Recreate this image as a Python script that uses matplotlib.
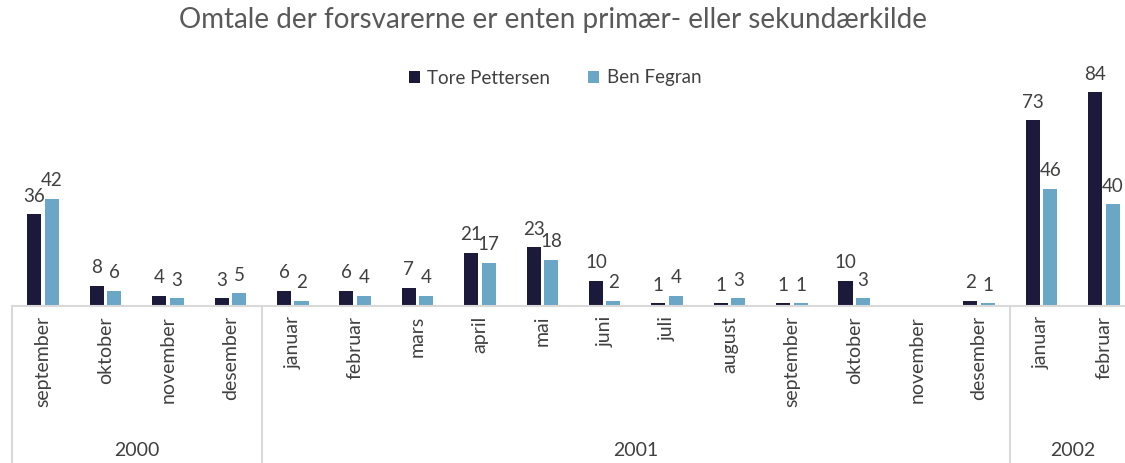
import numpy as np
import matplotlib.pyplot as plt
from matplotlib.lines import Line2D
import matplotlib.transforms as mtransforms

plt.rcParams['font.family'] = ['Lato', 'DejaVu Sans']

# Data
months = ['september', 'oktober', 'november', 'desember',
          'januar', 'februar', 'mars', 'april', 'mai', 'juni', 'juli',
          'august', 'september', 'oktober', 'november', 'desember',
          'januar', 'februar']
years = ['2000', '2001', '2002']
year_counts = [4, 12, 2]
tore = [36, 8, 4, 3, 6, 6, 7, 21, 23, 10, 1, 1, 1, 10, np.nan, 2, 73, 84]
ben = [42, 6, 3, 5, 2, 4, 4, 17, 18, 2, 4, 3, 1, 3, np.nan, 1, 46, 40]

c_tore = '#1b1a3b'
c_ben = '#6aa6c6'
txt = '#404040'
grid_c = '#d9d9d9'

W, H = 1125, 463
fig = plt.figure(figsize=(W / 100, H / 100), dpi=100)
ax = fig.add_axes([12 / W, 157 / H, 1123 / W, 229 / H])

x = np.arange(len(months))
bw = 0.225
off = 0.14
b1 = ax.bar(x - off, tore, bw, color=c_tore, label='Tore Pettersen')
b2 = ax.bar(x + off, ben, bw, color=c_ben, label='Ben Fegran')

for xs, vals in ((x - off, tore), (x + off, ben)):
    for xi, v in zip(xs, vals):
        if np.isnan(v):
            continue
        ax.annotate(f'{int(v)}', (xi, v), xytext=(0, 7), textcoords='offset points',
                    ha='center', va='bottom', fontsize=13.5, color=txt)

ax.set_xlim(-0.5, len(months) - 0.5)
ax.set_ylim(0, 90)
ax.set_xticks([])
ax.set_yticks([])
for s in ax.spines.values():
    s.set_visible(False)

trans = mtransforms.blended_transform_factory(ax.transData, ax.transAxes)
px = 1 / 229  # one pixel in axes fraction (vertical)

# baseline
ax.add_line(Line2D([-0.5, len(months) - 0.5], [0, 0], transform=trans,
                   color=grid_c, lw=1.5, clip_on=False))

# month labels
for xi, m in zip(x, months):
    ax.text(xi, -10 * px, m, transform=trans, rotation=90, ha='center', va='top',
            fontsize=14, color=txt)

# year separators and labels
start = 0
bounds = [-0.5]
for yname, n in zip(years, year_counts):
    ax.text(start + (n - 1) / 2, -145 * px, yname, transform=trans,
            ha='center', va='center', fontsize=14, color=txt)
    start += n
    bounds.append(start - 0.5)
for b in bounds:
    ax.add_line(Line2D([b, b], [0, -160 * px], transform=trans,
                       color=grid_c, lw=1.5, clip_on=False))

fig.text(553 / W, 1 - 20 / H, 'Omtale der forsvarerne er enten primær- eller sekundærkilde',
         ha='center', va='center', fontsize=20, color='#595959')
fig.legend(handles=[b1, b2], loc='center', bbox_to_anchor=(555 / W, 1 - 78 / H),
           ncol=2, frameon=False, fontsize=13.5, handlelength=0.6, handleheight=0.6,
           columnspacing=2.0, handletextpad=0.4, labelcolor=txt)

fig.savefig('out.png', dpi=100)
